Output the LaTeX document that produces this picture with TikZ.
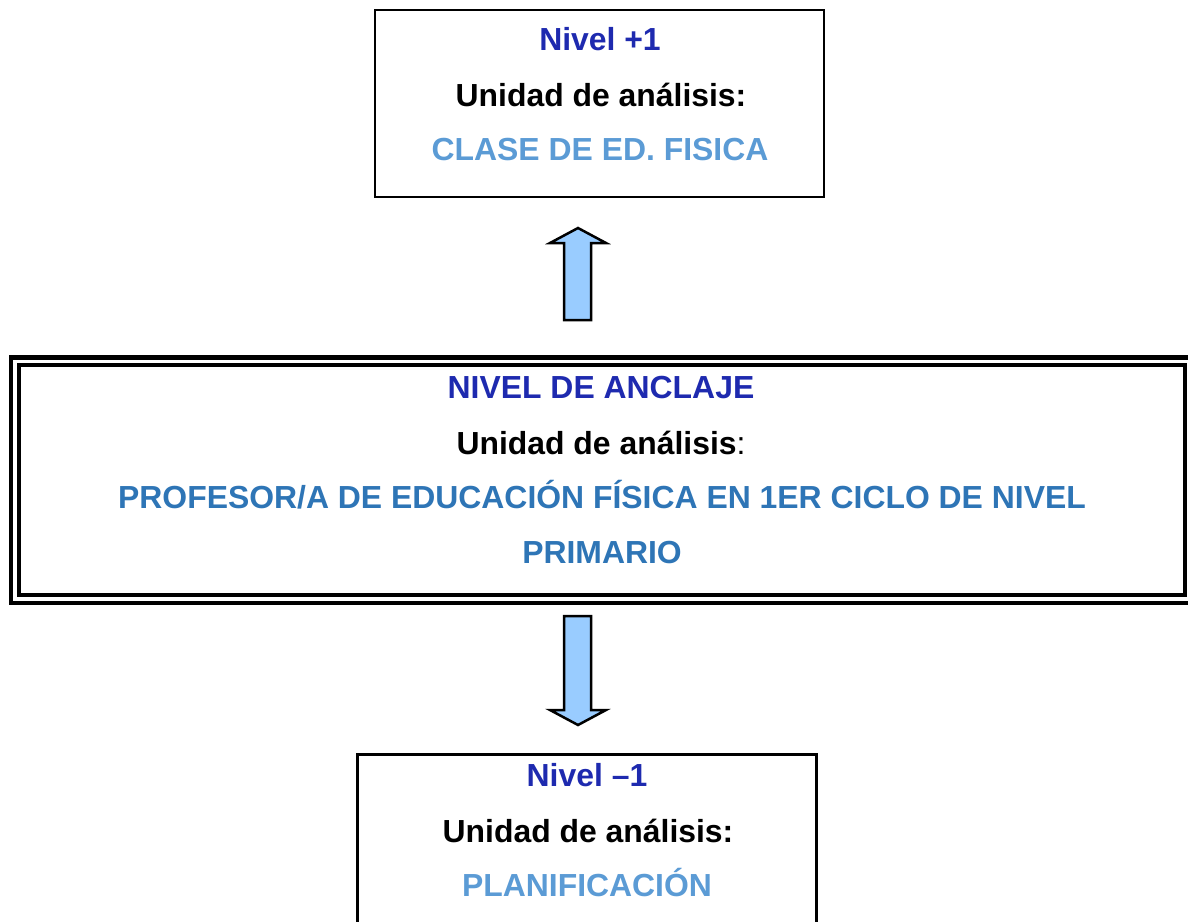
\documentclass[tikz,border=0pt]{standalone}
\usepackage{fontspec}
\setmainfont{Liberation Sans}
\definecolor{dblue}{RGB}{30,42,175}
\definecolor{lblue}{RGB}{91,155,213}
\definecolor{mblue}{RGB}{46,117,182}
\definecolor{afill}{RGB}{153,204,255}
\begin{document}
\begin{tikzpicture}[x=1pt,y=-1pt,
  txt/.style={anchor=base,font=\fontsize{31.9}{36}\selectfont\bfseries,inner sep=0pt},
  bigarrow/.style={draw=black,fill=afill,line width=2.5pt,line join=miter}]
\useasboundingbox (0,0) rectangle (1188,921);
\clip (0,0) rectangle (1188,921);
% top box
\draw[line width=2pt] (375,10) rectangle (824,197);
\node[txt,text=dblue] (t1) at (600,50) {Nivel +1};
\node[txt] (t2) at (601,106) {Unidad de análisis:};
\node[txt,text=lblue] (t3) at (600,160) {CLASE DE ED. FISICA};
% up arrow
\draw[bigarrow] (564,320) -- (564,243) -- (550,243) -- (578,228) -- (606,243) -- (591,243) -- (591,320) -- cycle;
% middle double box
\draw[line width=4.5pt] (11,357.5) rectangle (1192,603);
\draw[line width=4pt] (19,365) rectangle (1185,594.5);
\node[txt,text=dblue] (m1) at (601,398) {NIVEL DE ANCLAJE};
\node[txt] (m2) at (601,454) {Unidad de análisis\textmd{:}};
\node[txt,text=mblue] (m3) at (602,508) {PROFESOR/A DE EDUCACIÓN FÍSICA EN 1ER CICLO DE NIVEL};
\node[txt,text=mblue] (m4) at (602,563) {PRIMARIO};
% down arrow
\draw[bigarrow] (564,616) -- (591,616) -- (591,710) -- (606,710) -- (578,725) -- (550,710) -- (564,710) -- cycle;
% bottom box
\draw[line width=3pt] (357.5,754.5) rectangle (816.5,940);
\node[txt,text=dblue] (b1) at (587,786) {Nivel –1};
\node[txt] (b2) at (588,842) {Unidad de análisis:};
\node[txt,text=lblue] (b3) at (587,896) {PLANIFICACIÓN};
\end{tikzpicture}
\end{document}
